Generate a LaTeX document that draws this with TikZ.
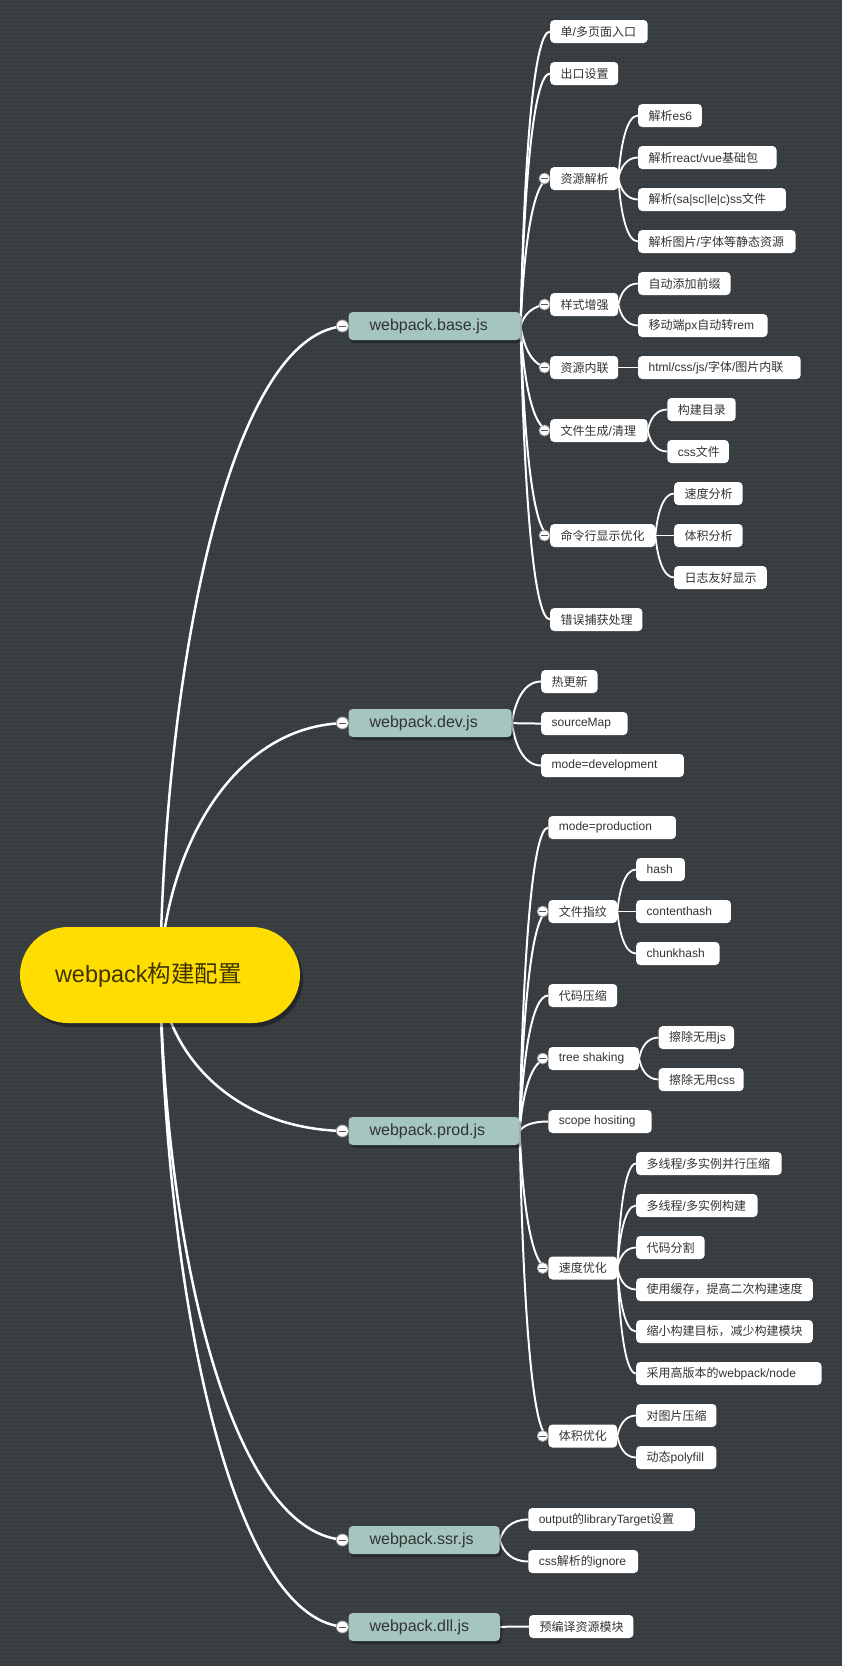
\documentclass[tikz,border=0pt]{standalone}
\usepackage{fontspec}
\setmainfont{Liberation Sans}
\newfontfamily\cjkf{Noto Sans CJK SC}
\newcommand\zhc[1]{{\cjkf #1}}
\usetikzlibrary{calc,shadows,patterns}
\definecolor{bgc}{HTML}{3A3F43}
\definecolor{dotc}{HTML}{2F3437}
\definecolor{lonec}{HTML}{A4C6BF}
\definecolor{rootc}{HTML}{FFDD00}
\definecolor{roottxt}{HTML}{3D3500}
\definecolor{txtc}{HTML}{333333}
\definecolor{minusc}{HTML}{9A9A9A}
\definecolor{minusl}{HTML}{555555}
\pgfdeclarepatternformonly{bgdots}{\pgfqpoint{0pt}{0pt}}{\pgfqpoint{4pt}{4pt}}{\pgfqpoint{4pt}{4pt}}{\pgfpathrectangle{\pgfqpoint{0pt}{0pt}}{\pgfqpoint{1.6pt}{1.6pt}}\pgfusepath{fill}}
\pgfdeclarelayer{bglayer}
\pgfdeclarelayer{edgelayer}
\pgfsetlayers{bglayer,edgelayer,main}
\tikzset{
  leafbox/.style={fill=white, rounded corners=4pt, minimum height=23pt, inner sep=0pt, anchor=west, font=\fontsize{12}{14}\selectfont, text=txtc},
  lonebox/.style={fill=lonec, rounded corners=4pt, minimum height=28pt, inner sep=0pt, anchor=west, font=\fontsize{16}{19}\selectfont, text=txtc, drop shadow={shadow xshift=2pt, shadow yshift=-3pt, opacity=0.35, fill=black}},
  rootbox/.style={fill=rootc, rounded corners=48pt, minimum height=96pt, inner sep=0pt, font=\fontsize{23.5}{28}\selectfont, text=roottxt, drop shadow={shadow xshift=3pt, shadow yshift=-4pt, opacity=0.35, fill=black}},
  minus/.style={circle, fill=white, draw=minusc, line width=0.8pt, minimum size=11pt, inner sep=0pt,
    path picture={\draw[minusl, line width=1pt] ([xshift=-3.5pt]path picture bounding box.center) -- ([xshift=3.5pt]path picture bounding box.center);}},
  czero/.style={draw=white, line width=2.5pt},
  cone/.style={draw=white, line width=2pt},
  ctwo/.style={draw=white, line width=1.8pt},
}
% #1 name, #2 x1, #3 x2, #4 cy, #5 text
\newcommand\leaf[5]{\node[leafbox] (#1) at (#2,#4) {\hbox to \dimexpr #3pt-#2pt\relax{\hskip10.5pt #5\hfil}};}
\newcommand\lone[5]{\node[lonebox] (#1) at (#2,#4) {\hbox to \dimexpr #3pt-#2pt\relax{\hskip21pt #5\hfil}};}
\newcommand\link[5]{\draw[#1] let \p1=(#2), \p2=(#3) in (\p1) .. controls ({\x1+#4*(\x2-\x1)},{0.5*\y1+0.5*\y2}) and ({\x2-#5*(\x2-\x1)},{\y2}) .. (\p2);}
\begin{document}
\begin{tikzpicture}[x=1pt,y=-1pt]
\useasboundingbox (0,0) rectangle (842,1666);
\begin{pgfonlayer}{bglayer}
\fill[bgc] (0,0) rectangle (842,1666);
\fill[pattern=bgdots, pattern color=dotc] (0,0) rectangle (842,1666);
\end{pgfonlayer}

% root
\node[rootbox] (root) at (160,975) {\hbox to 280pt{\hskip35pt webpack\zhc{构建配置}\hfil}};

% level 1
\lone{b}{348.4}{520.2}{326}{webpack.base.js}
\lone{d}{348.4}{511.5}{723}{webpack.dev.js}
\lone{p}{348.4}{519.2}{1131}{webpack.prod.js}
\lone{s}{348.4}{499.4}{1540}{webpack.ssr.js}
\lone{l}{348.4}{499.8}{1627}{webpack.dll.js}

% base children
\leaf{b1}{550}{647.4}{31.5}{\zhc{单}/\zhc{多页面入口}}
\leaf{b2}{550}{618}{73.5}{\zhc{出口设置}}
\leaf{b3}{550}{618}{178.5}{\zhc{资源解析}}
\leaf{b4}{550}{618}{304.5}{\zhc{样式增强}}
\leaf{b5}{550}{618}{367.5}{\zhc{资源内联}}
\leaf{b6}{550}{647.4}{430.5}{\zhc{文件生成}/\zhc{清理}}
\leaf{b7}{550}{655}{535.5}{\zhc{命令行显示优化}}
\leaf{b8}{550}{642.2}{619.5}{\zhc{错误捕获处理}}
\leaf{b31}{638}{701.7}{115.5}{\zhc{解析}es6}
\leaf{b32}{638}{776.3}{157.5}{\zhc{解析}react/vue\zhc{基础包}}
\leaf{b33}{638}{785.7}{199.5}{\zhc{解析}(sa|sc|le|c)ss\zhc{文件}}
\leaf{b34}{638}{795.3}{241.5}{\zhc{解析图片}/\zhc{字体等静态资源}}
\leaf{b41}{638}{730.3}{283.5}{\zhc{自动添加前缀}}
\leaf{b42}{638}{767.3}{325.5}{\zhc{移动端}px\zhc{自动转}rem}
\leaf{b51}{638}{800.5}{367.5}{html/css/js/\zhc{字体}/\zhc{图片内联}}
\leaf{b61}{667.1}{735.5}{409.5}{\zhc{构建目录}}
\leaf{b62}{667.1}{728.6}{451.5}{css\zhc{文件}}
\leaf{b71}{674}{742.4}{493.5}{\zhc{速度分析}}
\leaf{b72}{674}{742.4}{535.5}{\zhc{体积分析}}
\leaf{b73}{674}{766.6}{577.5}{\zhc{日志友好显示}}

% dev children
\leaf{d1}{541}{597.3}{681.5}{\zhc{热更新}}
\leaf{d2}{541}{627.3}{723.5}{sourceMap}
\leaf{d3}{541}{683.7}{765.5}{mode=development}

% prod children
\leaf{p1}{548.2}{675.7}{827.5}{mode=production}
\leaf{p2}{548.2}{617}{911.5}{\zhc{文件指纹}}
\leaf{p21}{636}{684.7}{869.5}{hash}
\leaf{p22}{636}{730.7}{911.5}{contenthash}
\leaf{p23}{636}{719.3}{953.5}{chunkhash}
\leaf{p3}{548.2}{617}{995.5}{\zhc{代码压缩}}
\leaf{p4}{548.2}{638.7}{1058.5}{tree shaking}
\leaf{p41}{658.5}{733.8}{1037.5}{\zhc{擦除无用}js}
\leaf{p42}{658.5}{743.5}{1079.5}{\zhc{擦除无用}css}
\leaf{p5}{548.2}{651.5}{1121.5}{scope hositing}
\leaf{p6}{548.2}{617}{1268}{\zhc{速度优化}}
\leaf{p61}{636}{781.5}{1163.5}{\zhc{多线程}/\zhc{多实例并行压缩}}
\leaf{p62}{636}{757.3}{1205.5}{\zhc{多线程}/\zhc{多实例构建}}
\leaf{p63}{636}{704.4}{1247.5}{\zhc{代码分割}}
\leaf{p64}{636}{812.6}{1289.5}{\zhc{使用缓存，提高二次构建速度}}
\leaf{p65}{636}{812.6}{1331.5}{\zhc{缩小构建目标，减少构建模块}}
\leaf{p66}{636}{821.3}{1373.5}{\zhc{采用高版本的}webpack/node}
\leaf{p7}{548.2}{617}{1436}{\zhc{体积优化}}
\leaf{p71}{636}{716.2}{1415.5}{\zhc{对图片压缩}}
\leaf{p72}{636}{716.2}{1457.5}{\zhc{动态}polyfill}

% ssr / dll children
\leaf{s1}{528.1}{694.7}{1519.5}{output\zhc{的}libraryTarget\zhc{设置}}
\leaf{s2}{528.1}{638}{1561.5}{css\zhc{解析的}ignore}
\leaf{l1}{528.8}{633.2}{1626.5}{\zhc{预编译资源模块}}

% connectors
\begin{pgfonlayer}{edgelayer}
\foreach \c in {b,d,p,s,l} {\link{czero}{root.center}{\c.west}{0.028}{0.61}}
\foreach \c in {b1,b2,b3,b4,b5,b6,b7,b8} {\link{cone}{b.east}{\c.west}{0.1}{0.6}}
\foreach \c in {d1,d2,d3} {\link{cone}{d.east}{\c.west}{0.1}{0.6}}
\foreach \c in {p1,p2,p3,p4,p5,p6,p7} {\link{cone}{p.east}{\c.west}{0.1}{0.6}}
\foreach \c in {s1,s2} {\link{cone}{s.east}{\c.west}{0.1}{0.6}}
\link{cone}{l.east}{l1.west}{0.1}{0.6}
\foreach \c in {b31,b32,b33,b34} {\link{ctwo}{b3.east}{\c.west}{0.1}{0.6}}
\foreach \c in {b41,b42} {\link{ctwo}{b4.east}{\c.west}{0.1}{0.6}}
\link{ctwo}{b5.east}{b51.west}{0.1}{0.6}
\foreach \c in {b61,b62} {\link{ctwo}{b6.east}{\c.west}{0.1}{0.6}}
\foreach \c in {b71,b72,b73} {\link{ctwo}{b7.east}{\c.west}{0.1}{0.6}}
\foreach \c in {p21,p22,p23} {\link{ctwo}{p2.east}{\c.west}{0.1}{0.6}}
\foreach \c in {p41,p42} {\link{ctwo}{p4.east}{\c.west}{0.1}{0.6}}
\foreach \c in {p61,p62,p63,p64,p65,p66} {\link{ctwo}{p6.east}{\c.west}{0.1}{0.6}}
\foreach \c in {p71,p72} {\link{ctwo}{p7.east}{\c.west}{0.1}{0.6}}
\end{pgfonlayer}

% collapse markers
\foreach \c in {b,d,p,s,l} {\node[minus, minimum size=12pt] (\c-m) at ($(\c.west)+(-6,0)$) {};}
\foreach \c in {b3,b4,b5,b6,b7,p2,p4,p6,p7} {\node[minus] (\c-m) at ($(\c.west)+(-5.5,0)$) {};}
\end{tikzpicture}
\end{document}
